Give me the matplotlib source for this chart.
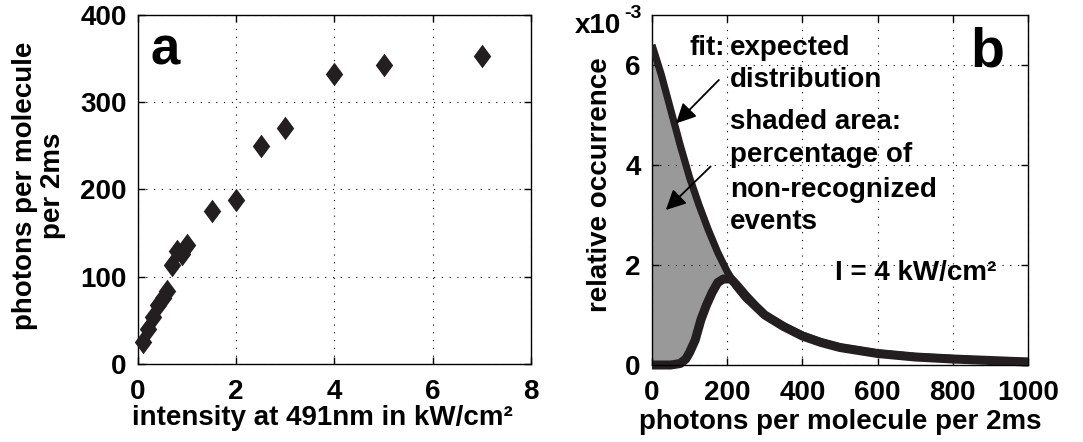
import numpy as np
import matplotlib
matplotlib.use('Agg')
import matplotlib.pyplot as plt

plt.rcParams['font.family'] = ['Liberation Sans', 'DejaVu Sans']
plt.rcParams['font.weight'] = 'bold'

# panel a: photons per molecule vs intensity
intensity = [0.1, 0.2, 0.3, 0.4, 0.5, 0.6, 0.7, 0.8, 0.9, 1.0, 1.5, 2.0, 2.5, 3.0, 4.0, 5.0, 7.0]
photons = [25, 40, 54, 68, 76, 84, 113, 130, 126, 136, 175, 188, 250, 271, 332, 343, 353]

# panel b: fit curve and measured histogram (units of 1e-3)
fit_x = [0, 25, 50, 75, 100, 125, 150, 175, 200, 225, 250, 300, 350, 400, 450, 500, 600, 700, 800, 900, 1000]
fit_y = [6.4, 5.8, 5.1, 4.4, 3.75, 3.2, 2.7, 2.25, 1.87, 1.56, 1.33, 1.0, 0.78, 0.6, 0.46, 0.36, 0.24, 0.17, 0.13, 0.09, 0.07]
hist_x = [0, 25, 50, 75, 90, 100, 115, 130, 145, 160, 175, 190, 210, 225, 250, 275, 300, 350, 400, 450, 500, 600, 700, 800, 900, 1000]
hist_y = [0, 0, 0, 0.03, 0.12, 0.25, 0.5, 0.9, 1.2, 1.45, 1.65, 1.72, 1.72, 1.6, 1.38, 1.18, 1.0, 0.77, 0.58, 0.45, 0.35, 0.23, 0.16, 0.12, 0.09, 0.06]

dark = '#231f20'
fs = 20

fig = plt.figure(figsize=(10.83, 4.42), dpi=100)
ax1 = fig.add_axes([0.1274, 0.1765, 0.3629, 0.7896])
ax2 = fig.add_axes([0.602, 0.1742, 0.3472, 0.792])

def style(ax):
    ax.tick_params(direction='in', length=5, width=1, top=True, right=True,
                   labelsize=fs)
    ax.tick_params(axis='x', pad=11)
    ax.tick_params(axis='y', pad=8)
    ax.grid(True, color='black', linestyle=(0, (1, 6)), linewidth=0.8)
    for s in ax.spines.values():
        s.set_linewidth(1)
        s.set_color('black')
    for lab in ax.get_xticklabels() + ax.get_yticklabels():
        lab.set_fontweight('bold')

# ---- panel a
diamond = [(0, 1), (0.74, 0), (0, -1), (-0.74, 0), (0, 1)]
ax1.plot(intensity, photons, linestyle='none', marker=diamond, markersize=17,
         color=dark, markeredgewidth=0, zorder=3, clip_on=False)
ax1.set_xlim(0, 8)
ax1.set_ylim(0, 400)
ax1.set_xticks([0, 2, 4, 6, 8])
ax1.set_yticks([0, 100, 200, 300, 400])
style(ax1)
ax1.set_xlabel('intensity at 491nm in kW/cm²', fontsize=fs, fontweight='bold')
ax1.xaxis.set_label_coords(0.47, -0.118)
ax1.set_ylabel('photons per molecule\nper 2ms', fontsize=fs, fontweight='bold',
               linespacing=1.1)
ax1.yaxis.set_label_coords(-0.183, 0.51)
ax1.text(0.069, 0.857, 'a', transform=ax1.transAxes, fontsize=38,
         fontweight='bold', ha='center', va='baseline')

# ---- panel b
hx = np.array(fit_x, dtype=float)
hy = np.interp(hx, hist_x, hist_y)
ax2.fill_between(hx, fit_y, hy, where=hx <= 225, interpolate=True,
                 color='#999999', linewidth=0, zorder=1)
ax2.plot(hist_x, hist_y, color=dark, linewidth=6.5, zorder=2, clip_on=False,
         solid_capstyle='butt')
ax2.plot(fit_x, fit_y, color=dark, linewidth=5.2, zorder=3,
         solid_capstyle='butt')
ax2.set_xlim(0, 1000)
ax2.set_ylim(0, 7)
ax2.set_xticks([0, 200, 400, 600, 800, 1000])
ax2.set_yticks([0, 2, 4, 6])
style(ax2)
ax2.set_xlabel('photons per molecule per 2ms', fontsize=fs, fontweight='bold')
ax2.xaxis.set_label_coords(0.5, -0.125)
ax2.set_ylabel('relative occurrence', fontsize=fs, fontweight='bold')
ax2.yaxis.set_label_coords(-0.103, 0.514)

ax2.text(-0.205, 0.949, 'x10', transform=ax2.transAxes, fontsize=fs,
         fontweight='bold', ha='left', va='baseline')
ax2.text(-0.075, 0.99, '-3', transform=ax2.transAxes, fontsize=14,
         fontweight='bold', ha='left', va='baseline')

ax2.text(0.891, 0.854, 'b', transform=ax2.transAxes, fontsize=40,
         fontweight='bold', ha='center', va='baseline')

tk = dict(transform=ax2.transAxes, fontsize=fs, fontweight='bold', va='center')
ax2.text(0.193, 0.906, 'fit:', ha='right', **tk)
ax2.text(0.207, 0.906, 'expected', ha='left', **tk)
ax2.text(0.207, 0.814, 'distribution', ha='left', **tk)
ax2.text(0.207, 0.694, 'shaded area:', ha='left', **tk)
ax2.text(0.207, 0.600, 'percentage of', ha='left', **tk)
ax2.text(0.207, 0.500, 'non-recognized', ha='left', **tk)
ax2.text(0.207, 0.409, 'events', ha='left', **tk)
ax2.text(0.487, 0.263, 'I = 4 kW/cm²', ha='left', **tk)

arr = dict(arrowstyle='-|>', color='black', lw=1.3, mutation_scale=30,
           shrinkA=0, shrinkB=0)
ax2.annotate('', xy=(64, 4.83), xytext=(178, 5.7), arrowprops=arr)
ax2.annotate('', xy=(37, 3.1), xytext=(156, 3.97), arrowprops=arr)

fig.savefig('out.png', dpi=100)
